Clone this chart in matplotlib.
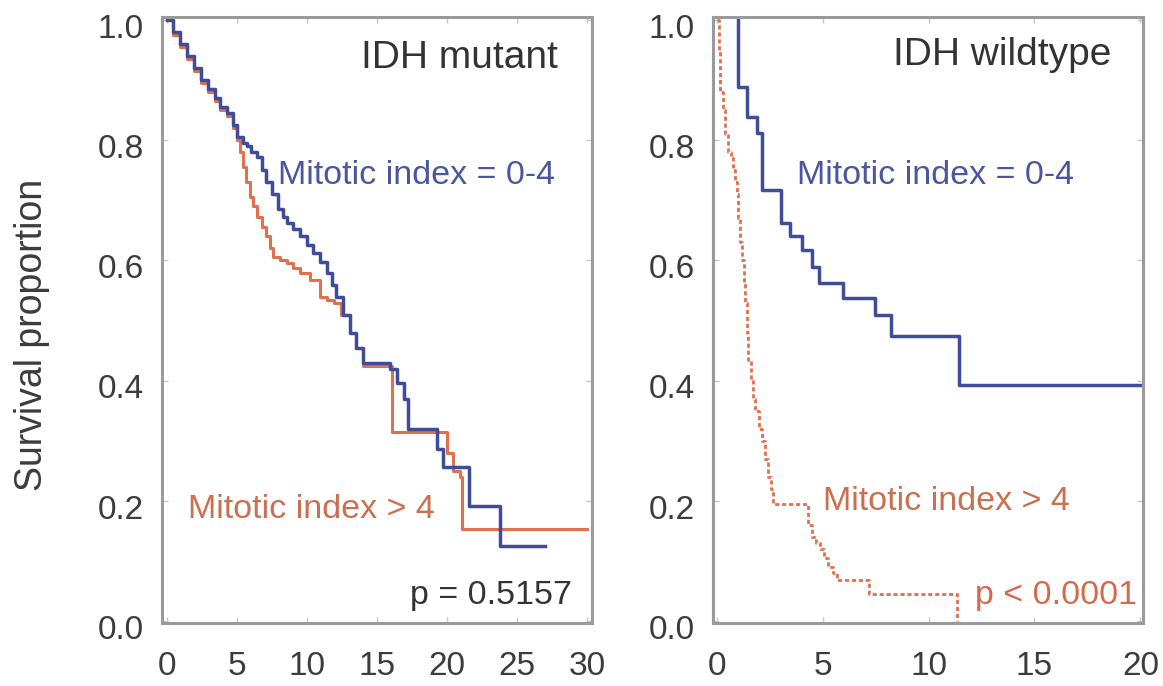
import matplotlib
matplotlib.use("Agg")
import matplotlib.pyplot as plt
from matplotlib.transforms import ScaledTranslation

plt.rcParams['font.family'] = ['Liberation Sans', 'DejaVu Sans']

# ---------------- data ----------------
# IDH mutant, mitotic index 0-4 (event times, survival after event)
mut_low_t = [0, 0.4, 0.9, 1.4, 1.9, 2.4, 2.9, 3.4, 3.8, 4.3, 4.7, 5.0, 5.4, 5.7, 6.0,
             6.4, 6.8, 7.1, 7.5, 7.9, 8.3, 8.6, 9.0, 9.5, 10.0, 10.4, 10.9, 11.4,
             11.8, 12.1, 12.6, 13.1, 13.5, 14.0, 15.9, 16.4, 16.9, 17.2, 19.3,
             19.7, 21.6, 23.8, 27.0]
mut_low_s = [1.0, 0.98, 0.96, 0.94, 0.92, 0.90, 0.885, 0.87, 0.855, 0.845, 0.825,
             0.806, 0.795, 0.79, 0.78, 0.772, 0.75, 0.73, 0.71, 0.685, 0.672, 0.663,
             0.652, 0.64, 0.625, 0.613, 0.597, 0.58, 0.56, 0.54, 0.51, 0.48, 0.455,
             0.43, 0.419, 0.397, 0.369, 0.319, 0.286, 0.257, 0.191, 0.125, 0.125]

# IDH mutant, mitotic index > 4
mut_high_t = [0, 0.4, 0.9, 1.4, 1.9, 2.4, 2.9, 3.4, 3.8, 4.3, 4.7, 5.0, 5.2, 5.4,
              5.65, 5.9, 6.15, 6.4, 6.75, 7.1, 7.35, 7.6, 8.1, 8.6, 9.0, 9.5, 10.2,
              10.9, 11.4, 11.9, 12.4, 13.1, 13.5, 14.0, 16.1, 20.0, 20.4, 20.9,
              21.1, 30.0]
mut_high_s = [1.0, 0.975, 0.955, 0.935, 0.915, 0.895, 0.88, 0.865, 0.85, 0.84, 0.82,
              0.80, 0.78, 0.756, 0.73, 0.706, 0.69, 0.673, 0.655, 0.64, 0.62, 0.606,
              0.60, 0.596, 0.588, 0.58, 0.568, 0.54, 0.535, 0.53, 0.51, 0.48, 0.455,
              0.424, 0.314, 0.28, 0.25, 0.24, 0.153, 0.153]

# IDH wildtype, mitotic index 0-4
wt_low_t = [1.0, 1.0, 1.45, 1.9, 2.15, 3.05, 3.45, 4.05, 4.5, 4.85, 5.95, 7.45,
            8.24, 11.43, 20.3]
wt_low_s = [1.0, 0.889, 0.839, 0.812, 0.718, 0.663, 0.64, 0.618, 0.59, 0.563,
            0.537, 0.51, 0.474, 0.393, 0.393]

# IDH wildtype, mitotic index > 4
wt_high_t = [0, 0.1, 0.17, 0.3, 0.4, 0.54, 0.66, 0.78, 0.88, 0.97, 1.0, 1.1, 1.2,
             1.27, 1.34, 1.42, 1.49, 1.6, 1.72, 1.82, 1.98, 2.15, 2.3, 2.43, 2.55,
             2.67, 4.3, 4.5, 4.7, 4.88, 5.07, 5.26, 5.47, 5.68, 7.2, 11.35]
wt_high_s = [1.0, 0.95, 0.88, 0.85, 0.81, 0.78, 0.77, 0.75, 0.73, 0.71, 0.67, 0.63,
             0.60, 0.565, 0.53, 0.48, 0.435, 0.40, 0.37, 0.35, 0.32, 0.30, 0.27,
             0.24, 0.22, 0.195, 0.16, 0.14, 0.13, 0.12, 0.105, 0.09, 0.08, 0.068,
             0.045, 0.0]

yticks = [0.0, 0.2, 0.4, 0.6, 0.8, 1.0]
ytick_labels = ["0.0", "0.2", "0.4", "0.6", "0.8", "1.0"]
mut_xticks = [0, 5, 10, 15, 20, 25, 30]
wt_xticks = [0, 5, 10, 15, 20]

BLUE = "#3f4c98"
RED = "#e0704e"
TXT_RED = "#c8704f"
GRAY = "#3c3c3c"

fig = plt.figure(figsize=(11.63, 6.86), dpi=100)
ax1 = fig.add_axes([0.1393, 0.0918, 0.3697, 0.8834])
ax2 = fig.add_axes([0.6131, 0.0918, 0.3697, 0.8834])

def style(ax, xticks, xlim):
    ax.set_xlim(*xlim)
    ax.set_ylim(-0.003, 1.005)
    ax.set_xticks(xticks)
    ax.set_xticklabels([str(v) for v in xticks])
    ax.set_yticks(yticks)
    ax.set_yticklabels(ytick_labels)
    for sp in ax.spines.values():
        sp.set_color("#9a9a9a")
        sp.set_linewidth(2.2)
    ax.tick_params(axis='both', direction='in', length=4, width=1,
                   color='#c8c8c8', labelcolor=GRAY, labelsize=24,
                   top=True, right=True)
    ax.tick_params(axis='x', pad=20)
    ax.tick_params(axis='y', pad=13)
    off = ScaledTranslation(0, -4 / 72, fig.dpi_scale_trans)
    for lab in ax.get_yticklabels():
        lab.set_transform(lab.get_transform() + off)

style(ax1, mut_xticks, (-0.36, 30.36))
style(ax2, wt_xticks, (-0.17, 20.12))

ax1.plot(mut_high_t, mut_high_s, drawstyle='steps-post', color=RED, lw=2.2)
ax1.plot(mut_low_t, mut_low_s, drawstyle='steps-post', color=BLUE, lw=2.5)

ax2.plot(wt_high_t, wt_high_s, drawstyle='steps-post', color=RED, lw=2.0,
         linestyle=(0, (1.5, 1)))
ax2.plot(wt_low_t, wt_low_s, drawstyle='steps-post', color=BLUE, lw=2.5)

ax1.text(27.9, 0.937, "IDH mutant", ha='right', va='center', fontsize=28, color="#333333")
ax1.text(7.9, 0.742, "Mitotic index = 0-4", ha='left', va='center', fontsize=24.5, color="#4a56a0")
ax1.text(1.5, 0.186, "Mitotic index > 4", ha='left', va='center', fontsize=24.5, color=TXT_RED)
ax1.text(28.9, 0.042, "p = 0.5157", ha='right', va='center', fontsize=24.5, color="#333333")

ax2.text(18.65, 0.942, "IDH wildtype", ha='right', va='center', fontsize=28, color="#333333")
ax2.text(3.8, 0.742, "Mitotic index = 0-4", ha='left', va='center', fontsize=24.5, color="#4a56a0")
ax2.text(5.02, 0.199, "Mitotic index > 4", ha='left', va='center', fontsize=24.5, color=TXT_RED)
ax2.text(19.83, 0.042, "p < 0.0001", ha='right', va='center', fontsize=24.5, color="#d8684a")

fig.text(32 / 1163, 1 - 335 / 686, "Survival proportion", rotation=90,
         ha='center', va='center', fontsize=27, color=GRAY)

fig.savefig("out.png", dpi=100)
